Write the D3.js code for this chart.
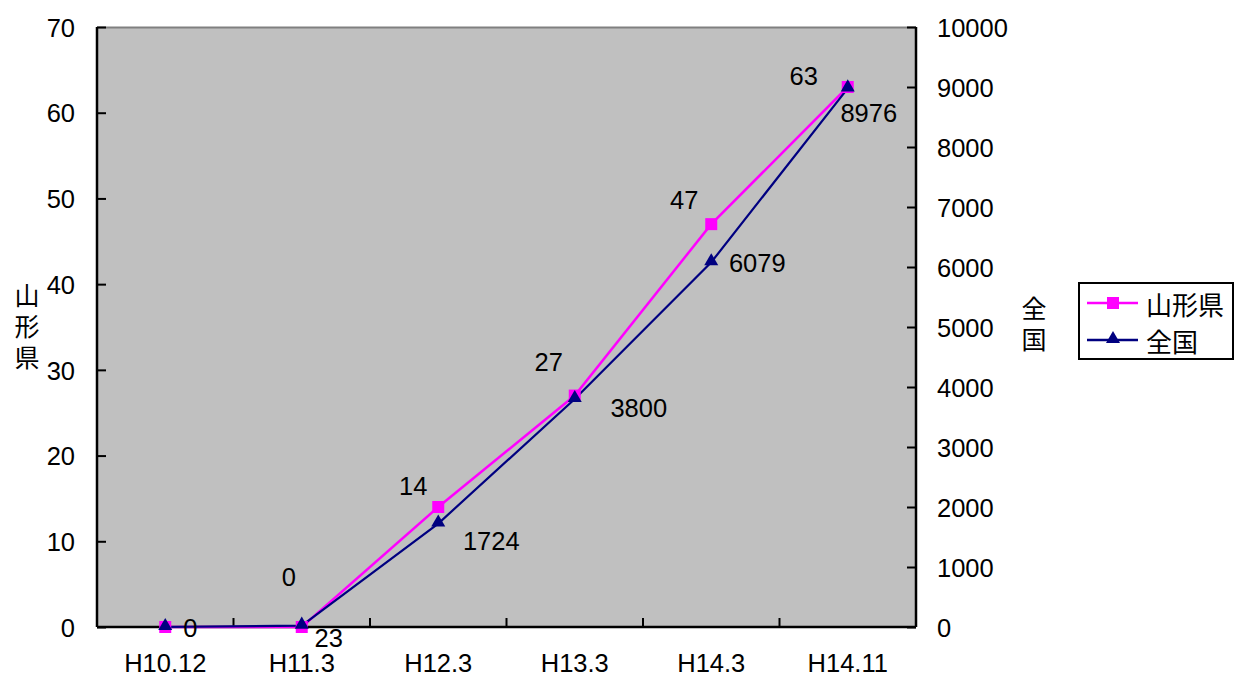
<!DOCTYPE html>
<html><head><meta charset="utf-8">
<script src="https://cdn.jsdelivr.net/npm/d3@7"></script>
<style>
body{margin:0;background:#fff;}
text{font-family:"Liberation Sans",Arial,sans-serif;}
</style></head>
<body><svg id="c" width="1236" height="676"></svg>
<script>
const categories = ["H10.12","H11.3","H12.3","H13.3","H14.3","H14.11"];
const yamagata = [0,0,14,27,47,63];
const zenkoku = [0,23,1724,3800,6079,8976];
const leftTicks = [0,10,20,30,40,50,60,70];
const rightTicks = [0,1000,2000,3000,4000,5000,6000,7000,8000,9000,10000];
const seriesNames = ["山形県","全国"];
// label placement (style, not data)
const yamaLabelDx = [null,-13,-25,-26,-27,-44];
const yamaLabelDy = [null,-50,-21,-34,-24,-11];
const zenLabelDx = [25,27,53,64,46,21];
const zenLabelDy = [1,12,17,9,1,25];

const svg = d3.select("#c");
const L=97, R=916, T=27, B=627;
const x = d3.scaleBand().domain(categories).range([L,R]);
const yL = d3.scaleLinear().domain([0,70]).range([B,T]);
const yR = d3.scaleLinear().domain([0,10000]).range([B,T]);
const fs = 25.5;

svg.append("rect").attr("x",L).attr("y",T).attr("width",R-L).attr("height",B-T).attr("fill","#c0c0c0");
svg.append("line").attr("x1",L).attr("x2",R).attr("y1",T+0.5).attr("y2",T+0.5).attr("stroke","#808080").attr("stroke-width",2);

const gl = svg.append("g").attr("transform",`translate(${L},0)`)
  .call(d3.axisLeft(yL).tickValues(leftTicks).tickSizeInner(-9).tickSizeOuter(0).tickPadding(22));
const gr = svg.append("g").attr("transform",`translate(${R},0)`)
  .call(d3.axisRight(yR).tickValues(rightTicks).tickFormat(d3.format("d")).tickSizeInner(-9).tickSizeOuter(0).tickPadding(21));
const gb = svg.append("g").attr("transform",`translate(0,${B})`)
  .call(d3.axisBottom(x).tickSize(0).tickPadding(30));
svg.append("g").selectAll("line").data(categories.slice(1)).join("line")
  .attr("x1",d=>x(d)).attr("x2",d=>x(d)).attr("y1",B).attr("y2",B-9)
  .attr("stroke","#000").attr("stroke-width",2);

[gl,gr,gb].forEach(g=>{
  g.selectAll(".domain").attr("stroke","#000").attr("stroke-width",2.5);
  g.selectAll(".tick line").attr("stroke","#000").attr("stroke-width",2);
  g.selectAll(".tick text").attr("font-size",fs).attr("fill","#000").attr("font-family","Liberation Sans, Arial, sans-serif");
});
gl.select(".domain").attr("d",`M0,${T}V${B}`);
gr.select(".domain").attr("d",`M0,${T}V${B}`);
gb.select(".domain").attr("d",`M${L},0H${R}`);
gl.selectAll(".tick text").attr("dy","0.36em");
gr.selectAll(".tick text").attr("dy","0.36em");
gb.selectAll(".tick text").attr("dy","0.6em");

const cjk = '"Noto Sans CJK JP", sans-serif';
function vtitle(label, cx, y0){
  svg.append("text").attr("x",cx).attr("y",y0)
    .style("writing-mode","vertical-rl").style("letter-spacing","6px")
    .style("font-family",cjk).attr("font-size",25).attr("fill","#000").text(label);
}
vtitle(seriesNames[0], 27, 283);
vtitle(seriesNames[1], 1034, 296);

const cx = i => x(categories[i])+x.bandwidth()/2;
const lineL = d3.line().x((d,i)=>cx(i)).y(d=>yL(d));
const lineR = d3.line().x((d,i)=>cx(i)).y(d=>yR(d));
svg.append("path").datum(yamagata).attr("d",lineL).attr("fill","none").attr("stroke","#ff00ff").attr("stroke-width",2.5);
svg.append("path").datum(zenkoku).attr("d",lineR).attr("fill","none").attr("stroke","#000080").attr("stroke-width",2.2);

svg.append("g").selectAll("rect").data(yamagata).join("rect")
  .attr("x",(d,i)=>cx(i)-6).attr("y",d=>yL(d)-6).attr("width",12).attr("height",12).attr("fill","#ff00ff");
const tri = d3.symbol().type(d3.symbolTriangle).size(85);
svg.append("g").selectAll("path").data(zenkoku).join("path")
  .attr("transform",(d,i)=>`translate(${cx(i)},${yR(d)-1})`).attr("d",tri).attr("fill","#000080");

const yamaItems = yamagata.map((v,i)=>({v,i})).filter(o=>yamaLabelDx[o.i]!==null);
svg.append("g").selectAll("text").data(yamaItems).join("text")
  .attr("x",o=>cx(o.i)+yamaLabelDx[o.i]).attr("y",o=>yL(o.v)+yamaLabelDy[o.i])
  .attr("text-anchor","middle").attr("dominant-baseline","central").attr("font-size",fs).text(o=>o.v);
svg.append("g").selectAll("text").data(zenkoku).join("text")
  .attr("x",(d,i)=>cx(i)+zenLabelDx[i]).attr("y",(d,i)=>yR(d)+zenLabelDy[i])
  .attr("text-anchor","middle").attr("dominant-baseline","central").attr("font-size",fs).text(d=>d);

const lg = svg.append("g");
lg.append("rect").attr("x",1079).attr("y",283).attr("width",154).attr("height",76).attr("fill","#fff").attr("stroke","#000").attr("stroke-width",2);
const rows=[{name:seriesNames[0],color:"#ff00ff",y:303,m:"sq"},{name:seriesNames[1],color:"#000080",y:340,m:"tri"}];
rows.forEach(r=>{
  lg.append("line").attr("x1",1087).attr("x2",1138).attr("y1",r.y).attr("y2",r.y).attr("stroke",r.color).attr("stroke-width",2.5);
  if(r.m==="sq") lg.append("rect").attr("x",1107).attr("y",r.y-6).attr("width",12).attr("height",12).attr("fill",r.color);
  else lg.append("path").attr("transform",`translate(1113,${r.y-1})`).attr("d",tri).attr("fill",r.color);
  lg.append("text").attr("x",1146).attr("y",r.y).attr("dominant-baseline","central")
    .style("font-family",cjk).attr("font-size",26).text(r.name);
});
</script></body></html>
